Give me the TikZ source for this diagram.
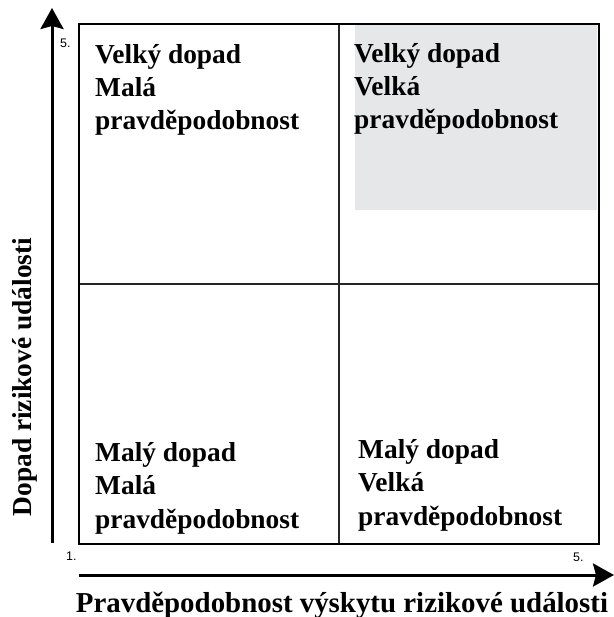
\documentclass[tikz,border=0pt]{standalone}
\usepackage{fontspec}
\setmainfont{Liberation Serif}
\newfontfamily\ticksfont{Liberation Sans}
\usetikzlibrary{arrows.meta}

\definecolor{highgrey}{HTML}{E6E7E8}

\tikzset{
  % multi-line captions: the base anchor sits on the last line's baseline
  quadtext/.style={anchor=base west, inner sep=0pt, align=left,
    font=\fontsize{27.5}{33.5}\selectfont\bfseries},
  axistitle/.style={inner sep=0pt, font=\fontsize{29}{34}\selectfont\bfseries},
  ticklabel/.style={anchor=base west, inner sep=0pt, font=\fontsize{12.5}{14}\selectfont\ticksfont},
  axisline/.style={line width=3bp, -{Stealth[length=21bp, width=23bp, inset=3bp]}},
  frame/.style={line width=2bp, draw=black},
  divider/.style={line width=1.6bp, draw=black!85}
}

\begin{document}
\begin{tikzpicture}[x=1bp, y=-1bp]
  \useasboundingbox (0,0) rectangle (614,617);

  % shaded high-impact / high-probability quadrant
  \fill[highgrey] (355,25) rectangle (597,210);

  % quadrant grid
  \coordinate (tl) at (79,24);
  \coordinate (br) at (599,544);
  \coordinate (midtop) at (339,24);
  \coordinate (midbot) at (339,544);
  \coordinate (midleft) at (79,284);
  \coordinate (midright) at (599,284);
  \draw[divider] (midtop) -- (midbot);
  \draw[divider] (midleft) -- (midright);
  \draw[frame] (tl) rectangle (br);

  % axes
  \coordinate (yfoot) at (52,543);
  \coordinate (ytip) at (52,8);
  \coordinate (xfoot) at (79,575);
  \coordinate (xtip) at (614,575);
  \draw[axisline] (yfoot) -- (ytip);
  \draw[axisline] (xfoot) -- (xtip);

  % scale marks
  \node[ticklabel] (ymax) at (60,48) {5.};
  \node[ticklabel] (orig) at (66,560) {1.};
  \node[ticklabel] (xmax) at (573,561) {5.};

  % quadrant captions
  \node[quadtext] (qtl) at (95,130) {Velký dopad\\Malá\\pravděpodobnost};
  \node[quadtext] (qtr) at (354,129) {Velký dopad\\Velká\\pravděpodobnost};
  \node[quadtext] (qbl) at (95,528) {Malý dopad\\Malá\\pravděpodobnost};
  \node[quadtext] (qbr) at (358,525) {Malý dopad\\Velká\\pravděpodobnost};

  % axis titles
  \node[axistitle, anchor=base] (xtitle) at (342,612) {Pravděpodobnost výskytu rizikové události};
  \node[axistitle, anchor=base, rotate=90, font=\fontsize{27.5}{33}\selectfont\bfseries] (ytitle) at (31,377) {Dopad rizikové události};
\end{tikzpicture}
\end{document}
